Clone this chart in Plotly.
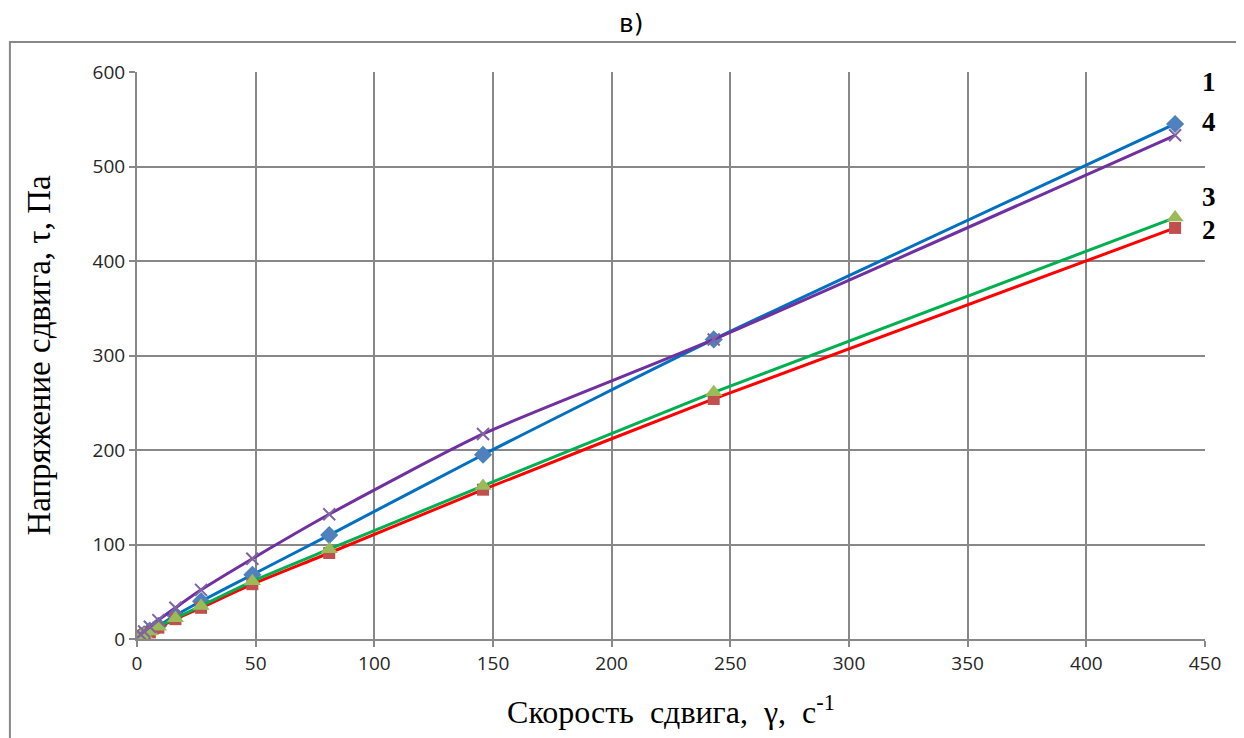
import plotly.graph_objects as go

shear_rate = [1.5, 3, 5.4, 9, 16.2, 27, 48.6, 81, 145.8, 243, 437.4]
s1 = [3, 5, 9, 14, 25, 40, 68, 110, 195, 317, 545]
s2 = [2, 4, 7, 12, 21, 33, 58, 91, 158, 254, 435]
s3 = [3, 5, 8, 13, 22, 35, 61, 95, 162, 261, 446]
s4 = [5, 8, 13, 20, 33, 52, 85, 132, 217, 317, 533]

labels = ["1", "4", "3", "2"]
label_y = [589, 547, 468, 433]

series = [
    (s1, "1", "#0070C0", "#4F81BD", "diamond", 14),
    (s2, "2", "#FF0000", "#C0504D", "square", 12),
    (s3, "3", "#00B050", "#9BBB59", "triangle-up", 15),
    (s4, "4", "#7030A0", "#8064A2", "x-thin", 12),
]

fig = go.Figure()
for ys, name, lc, mc, sym, ms in series:
    marker = dict(symbol=sym, size=ms, color=mc)
    if sym == "x-thin":
        marker["line"] = dict(color=mc, width=2)
    fig.add_trace(go.Scatter(
        x=shear_rate, y=ys, name=name, mode="lines+markers",
        line=dict(color=lc, width=3, shape="spline", smoothing=0.6),
        marker=marker,
    ))

for t, yv in zip(labels, label_y):
    fig.add_annotation(x=1.0, xref="paper", y=yv, yref="y", text="<b>" + t + "</b>",
                       showarrow=False, xanchor="left", xshift=-5,
                       font=dict(family="Liberation Serif", size=27, color="black"))

fig.add_annotation(x=0.463, xref="paper", y=1.078, yref="paper", yanchor="middle", yshift=4,
                   text="в)", showarrow=False,
                   font=dict(family="DejaVu Sans", size=25, color="black"))

# outer chart-area border
fig.add_shape(type="rect", xref="paper", yref="paper", x0=-0.119, x1=1.05, y0=-0.2, y1=1.053,
              line=dict(color="#888888", width=2), layer="below")

fig.update_layout(
    width=1236, height=730,
    margin=dict(l=129, r=39, t=64, b=99),
    paper_bgcolor="white", plot_bgcolor="white",
    showlegend=False,
    xaxis=dict(range=[0, 450], dtick=50, showgrid=True, gridcolor="#888888", gridwidth=2,
               zeroline=False, showline=True, linecolor="#888888", linewidth=2,
               ticks="outside", ticklen=6, tickcolor="#888888", tickwidth=2,
               tickfont=dict(family="Open Sans", size=19, color="#262626"),
               title=dict(text="Скорость\u00a0\u00a0сдвига,\u00a0\u00a0γ,\u00a0\u00a0с<sup>-1</sup>",
                          font=dict(family="Liberation Serif", size=32, color="black"),
                          standoff=26)),
    yaxis=dict(range=[0, 600], dtick=100, showgrid=True, gridcolor="#888888", gridwidth=2,
               zeroline=False, showline=True, linecolor="#888888", linewidth=2,
               ticks="outside", ticklen=6, tickcolor="#888888", tickwidth=2,
               tickfont=dict(family="Open Sans", size=19, color="#262626"),
               title=dict(text="Напряжение сдвига, τ, Па",
                          font=dict(family="Liberation Serif", size=33, color="black"),
                          standoff=32)),
)

fig.write_html("out.html")
